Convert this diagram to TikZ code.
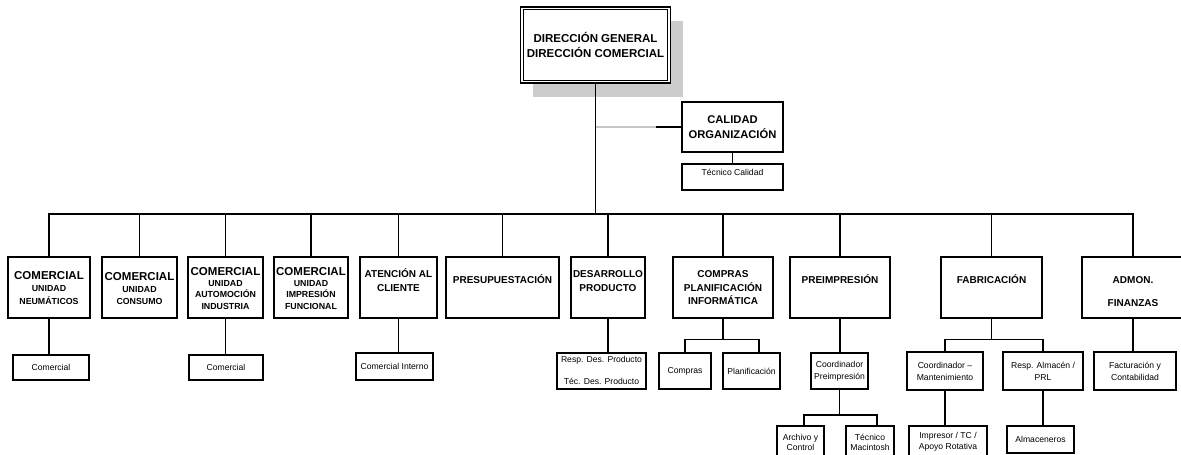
\documentclass[tikz,border=0pt]{standalone}
\usepackage{fontspec}
\setmainfont{Liberation Sans}
\usetikzlibrary{shadows,calc}
\tikzset{
  box/.style={draw, line width=1.4pt, fill=white, inner sep=0pt, align=center},
  hd/.style={font=\fontsize{10}{12}\selectfont\bfseries, anchor=base, inner sep=0pt},
  big/.style={font=\fontsize{11.5}{13}\selectfont\bfseries, anchor=base, inner sep=0pt},
  sub/.style={font=\fontsize{8.8}{10}\selectfont\bfseries, anchor=base, inner sep=0pt},
  sm/.style={font=\fontsize{8.6}{12}\selectfont},
  smt/.style={font=\fontsize{8.6}{12}\selectfont, anchor=base, inner sep=0pt},
  conn/.style={line width=1.4pt},
}
\begin{document}
\begin{tikzpicture}[x=1pt,y=-1pt]
\useasboundingbox (0,0) rectangle (1181,455);
\clip (0,0) rectangle (1181,455);

% ---------- top ----------
\node[box, line width=1.6pt, minimum width=150pt, minimum height=76pt,
      drop shadow={shadow xshift=12.5pt, shadow yshift=-14pt, opacity=1, fill=gray!40, draw=none},
      font=\fontsize{11.5}{15}\selectfont\bfseries] (dg) at (595.5,45) {DIRECCIÓN GENERAL\\DIRECCIÓN COMERCIAL};
\draw[line width=1pt] ([shift={(3.5,-3.5)}]dg.south west) rectangle ([shift={(-3.5,3.5)}]dg.north east);

\node[box, minimum width=101pt, minimum height=50pt, font=\fontsize{11.2}{15}\selectfont\bfseries] (cal) at (732.5,127) {CALIDAD\\ORGANIZACIÓN};
\node[box, minimum width=101pt, minimum height=26pt] (tec) at (732.5,177) {};
\node[smt] (tect) at (732.5,175) {Técnico Calidad};

\coordinate (busy) at (0,214);
\coordinate (fy) at (0,339.5);
\coordinate (fy2) at (0,415);

\draw[conn] (dg.south) -- (dg.south |- busy);
\coordinate (cj) at (dg.south |- cal.west);
\coordinate (cg) at (656,127);
\draw[conn, gray!45] (cj) -- (cg);
\draw[conn] (cg) -- (cal.west);
\draw[conn] (cal.south) -- (tec.north);

% ---------- level 2 boxes ----------
\node[box, minimum width=82pt,  minimum height=61pt] (b1)  at (49,287.5) {};
\node[box, minimum width=75pt,  minimum height=61pt] (b2)  at (139.5,287.5) {};
\node[box, minimum width=75pt,  minimum height=61pt] (b3)  at (225.5,287.5) {};
\node[box, minimum width=74pt,  minimum height=61pt] (b4)  at (311,287.5) {};
\node[box, minimum width=77pt,  minimum height=61pt] (b5)  at (398.5,287.5) {};
\node[box, minimum width=113pt, minimum height=61pt] (b6)  at (502.5,287.5) {};
\node[box, minimum width=74pt,  minimum height=61pt] (b7)  at (608,287.5) {};
\node[box, minimum width=100pt, minimum height=61pt] (b8)  at (723,287.5) {};
\node[box, minimum width=100pt, minimum height=61pt] (b9)  at (840,287.5) {};
\node[box, minimum width=101pt, minimum height=61pt] (b10) at (991.5,287.5) {};
\node[box, minimum width=102pt, minimum height=61pt] (b11) at (1133,287.5) {};

% bus and stubs
\draw[conn] (b1.north) -- (b1.north |- busy) -- (b11.north |- busy) -- (b11.north);
\foreach \n in {b2,b3,b4,b5,b6,b7,b8,b9,b10}
  \draw[conn] (\n.north) -- (\n.north |- busy);

% texts level 2
\node[big] (t1a) at (49,279) {COMERCIAL};
\node[sub] (t1b) at (49,291) {UNIDAD};
\node[sub] (t1c) at (49,304) {NEUMÁTICOS};

\node[big] (t2a) at (139.5,280) {COMERCIAL};
\node[sub] (t2b) at (139.5,292) {UNIDAD};
\node[sub] (t2c) at (139.5,304) {CONSUMO};

\node[big] (t3a) at (225.5,275) {COMERCIAL};
\node[sub] (t3b) at (225.5,286) {UNIDAD};
\node[sub] (t3c) at (225.5,297.5) {AUTOMOCIÓN};
\node[sub] (t3d) at (225.5,309.5) {INDUSTRIA};

\node[big] (t4a) at (311,275) {COMERCIAL};
\node[sub] (t4b) at (311,286) {UNIDAD};
\node[sub] (t4c) at (311,297.5) {IMPRESIÓN};
\node[sub] (t4d) at (311,309.5) {FUNCIONAL};

\node[hd] (t5a) at (398.5,277.6) {ATENCIÓN AL};
\node[hd] (t5b) at (398.5,291.6) {CLIENTE};

\node[hd] (t6a) at (502.5,283.6) {PRESUPUESTACIÓN};

\node[hd] (t7a) at (608,277.6) {DESARROLLO};
\node[hd] (t7b) at (608,291.6) {PRODUCTO};

\node[hd] (t8a) at (723,277.6) {COMPRAS};
\node[hd] (t8b) at (723,291.6) {PLANIFICACIÓN};
\node[hd] (t8c) at (723,304.6) {INFORMÁTICA};

\node[hd] (t9a) at (840,283.6) {PREIMPRESIÓN};

\node[hd] (t10a) at (991.5,283.6) {FABRICACIÓN};

\node[hd] (t11a) at (1133,283.6) {ADMON.};
\node[hd] (t11b) at (1133,306.6) {FINANZAS};

% ---------- level 3 ----------
\node[box, sm, minimum width=76pt, minimum height=25pt] (c1) at (51,367.5) {Comercial};
\node[box, sm, minimum width=74pt, minimum height=25pt] (c3) at (226,367.5) {Comercial};
\node[box, sm, minimum width=77pt, minimum height=27pt] (c5) at (394.5,366.5) {Comercial Interno};
\node[box, minimum width=89pt, minimum height=36pt] (rt) at (601.5,371) {};
\node[smt] (rta) at (601.5,362) {Resp. Des. Producto};
\node[smt] (rtb) at (601.5,384) {Téc. Des. Producto};
\node[box, sm, minimum width=52pt, minimum height=36pt] (co) at (685,371) {Compras};
\node[box, sm, minimum width=57pt, minimum height=36pt] (pl) at (751.5,371) {Planificación};
\node[box, sm, minimum width=57pt, minimum height=36pt] (cp) at (839.5,371) {Coordinador\\Preimpresión};
\node[box, sm, minimum width=76pt, minimum height=38pt] (cm) at (945,371) {Coordinador –\\Mantenimiento};
\node[box, sm, minimum width=80pt, minimum height=38pt] (ra) at (1043,371) {Resp. Almacén /\\PRL};
\node[box, sm, minimum width=82pt, minimum height=38pt] (fc) at (1135,371) {Facturación y\\Contabilidad};

\draw[conn] (b1.south) -- (b1.south |- c1.north);
\draw[conn] (b3.south) -- (b3.south |- c3.north);
\draw[conn] (b5.south) -- (b5.south |- c5.north);
\draw[conn] (b7.south) -- (b7.south |- rt.north);
\draw[conn] (b9.south) -- (b9.south |- cp.north);
\draw[conn] (b11.south) -- (b11.south |- fc.north);

\coordinate (plj) at ([xshift=7.5pt]pl.north);
\draw[conn] (b8.south) -- (b8.south |- fy);
\draw[conn] (co.north) -- (co.north |- fy) -- (plj |- fy) -- (plj);

\draw[conn] (b10.south) -- (b10.south |- fy);
\draw[conn] (cm.north) -- (cm.north |- fy) -- (ra.north |- fy) -- (ra.north);

% ---------- level 4 ----------
\node[box, minimum width=47pt, minimum height=36pt] (ac) at (800.5,444) {};
\node[smt] (aca) at (800.5,440) {Archivo y};
\node[smt] (acb) at (800.5,450.5) {Control};
\node[box, minimum width=48pt, minimum height=36pt] (tm) at (870,444) {};
\node[smt] (tma) at (870,440) {Técnico};
\node[smt] (tmb) at (870,450.5) {Macintosh};
\node[box, minimum width=78pt, minimum height=36pt] (ip) at (948,444) {};
\node[smt] (ipa) at (948,438.5) {Impresor / TC /};
\node[smt] (ipb) at (948,449.5) {Apoyo Rotativa};
\node[box, sm, minimum width=67pt, minimum height=27pt] (al) at (1040.5,439.5) {Almaceneros};

\coordinate (acj) at ([xshift=3.5pt]ac.north);
\coordinate (tmj) at ([xshift=7pt]tm.north);
\draw[conn] (cp.south) -- (cp.south |- fy2);
\draw[conn] (acj) -- (acj |- fy2) -- (tmj |- fy2) -- (tmj);
\draw[conn] (cm.south) -- (cm.south |- ip.north);
\draw[conn] (ra.south) -- (ra.south |- al.north);
\end{tikzpicture}
\end{document}
